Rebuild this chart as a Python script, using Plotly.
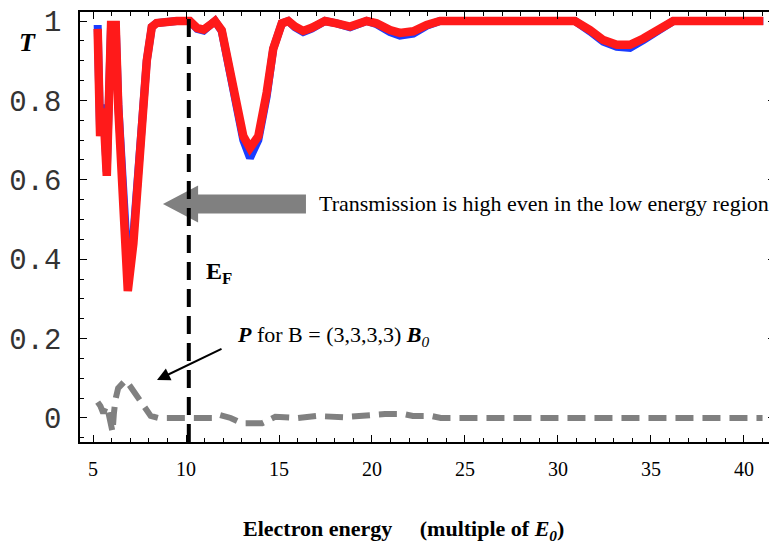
import plotly.graph_objects as go

# ---- data ----
energy_red = [5.25, 5.38, 5.55, 5.74, 5.97, 6.22, 6.36, 6.63, 6.87, 7.17, 7.53, 7.89, 8.16, 8.42,
              9.5, 10.2, 10.6, 10.95, 11.3, 11.56, 11.92, 12.27, 12.73, 13.08, 13.44, 13.89, 14.34,
              14.69, 15.15, 15.5, 15.86, 16.3, 16.76, 17.47, 18.1, 18.82, 19.71, 20.25, 20.97, 21.5,
              22.22, 22.94, 23.66, 26.0, 28.0, 30.91, 31.72, 32.44, 33.16, 33.87, 34.59, 35.48,
              36.2, 38.0, 41.04]
T_red = [0.98, 0.71, 0.78, 0.61, 0.99, 0.99, 0.78, 0.52, 0.32, 0.44, 0.69, 0.90, 0.985, 0.995,
         1.0, 1.0, 0.982, 0.978, 0.99, 1.0, 0.977, 0.90, 0.79, 0.71, 0.68, 0.71, 0.82,
         0.93, 0.994, 1.0, 0.986, 0.975, 0.983, 1.0, 0.994, 0.986, 1.0, 0.994, 0.977, 0.97,
         0.974, 0.99, 1.0, 1.0, 1.0, 1.0, 0.977, 0.952, 0.94, 0.94, 0.956, 0.98,
         1.0, 1.0, 1.0]
T_blue = [0.99, 0.72, 0.79, 0.62, 0.99, 0.99, 0.79, 0.54, 0.38, 0.46, 0.70, 0.90, 0.985, 0.995,
          1.0, 1.0, 0.98, 0.976, 0.99, 1.0, 0.975, 0.89, 0.78, 0.70, 0.655, 0.70, 0.81,
          0.93, 0.994, 1.0, 0.984, 0.972, 0.981, 1.0, 0.994, 0.984, 1.0, 0.992, 0.972, 0.963,
          0.968, 0.988, 1.0, 1.0, 1.0, 1.0, 0.974, 0.948, 0.935, 0.932, 0.952, 0.978,
          1.0, 1.0, 1.0]

energy_P = [5.25, 5.4, 5.55, 5.7, 5.82, 6.05, 6.12, 6.2, 6.35, 6.55, 6.75, 7.0, 7.3, 7.55, 7.85,
            8.1, 8.5, 11.4, 11.8, 12.4, 13.0, 14.1, 14.8, 16.0, 17.0, 18.5, 20.7, 21.7, 22.2,
            23.2, 23.7, 41.0]
P_vals = [0.04, 0.03, 0.012, 0.03, 0.015, -0.035, 0.01, 0.045, 0.075, 0.085, 0.095, 0.08, 0.058,
          0.04, 0.02, 0.005, 0.0, 0.0, 0.008, 0.0, -0.013, -0.013, 0.003, 0.0, 0.005, 0.002,
          0.01, 0.01, 0.005, 0.005, 0.0, 0.0]

E_F = 10.15
x_ticks = [5, 10, 15, 20, 25, 30, 35, 40]
y_ticks = [0, 0.2, 0.4, 0.6, 0.8, 1.0]
y_ticktext = ["0", "0.2", "0.4", "0.6", "0.8", "1"]

fig = go.Figure()
fig.add_trace(go.Scatter(x=energy_P, y=P_vals, mode="lines",
                         line=dict(color="#808080", width=6, dash="18px,9px")))
fig.add_trace(go.Scatter(x=energy_red, y=T_blue, mode="lines",
                         line=dict(color="#1a3cff", width=8)))
fig.add_trace(go.Scatter(x=energy_red, y=T_red, mode="lines",
                         line=dict(color="#ff1a1a", width=8.5)))

# block arrow (gray)
tip, hb, tail, yc, bh, hh = 8.76, 10.65, 16.45, 0.539, 0.024, 0.0466
path = (f"M {tip},{yc} L {hb},{yc+hh} L {hb},{yc+bh} L {tail},{yc+bh} "
        f"L {tail},{yc-bh} L {hb},{yc-bh} L {hb},{yc-hh} Z")
fig.add_shape(type="path", path=path, xref="x", yref="y",
              fillcolor="#808080", line=dict(width=0), layer="above")
# E_F dashed line
fig.add_shape(type="line", xref="x", yref="paper", x0=E_F, x1=E_F, y0=0, y1=1,
              line=dict(color="black", width=4, dash="18px,9px"), layer="above")

serif = "Liberation Serif"
fig.add_annotation(x=17.04, y=0.54, xref="x", yref="y", xanchor="left", yanchor="middle",
                   text="Transmission is high even in the low energy region",
                   showarrow=False, font=dict(family=serif, size=22, color="black"))
fig.add_annotation(x=10.97, y=0.365, xref="x", yref="y", xanchor="left", yanchor="middle",
                   text="<b>E<sub>F</sub></b>", showarrow=False,
                   font=dict(family=serif, size=24, color="black"))
fig.add_annotation(x=12.63, y=0.206, xref="x", yref="y", xanchor="left", yanchor="middle",
                   text="<b><i>P</i></b> for B = (3,3,3,3) <b><i>B</i></b><i><sub>0</sub></i>",
                   showarrow=False, font=dict(family=serif, size=22, color="black"))
fig.add_annotation(x=8.44, y=0.0957, ax=11.99, ay=0.176, xref="x", yref="y",
                   axref="x", ayref="y", text="", showarrow=True,
                   arrowhead=2, arrowsize=1.3, arrowwidth=2, arrowcolor="black")
fig.add_annotation(x=-0.075, y=0.93, xref="paper", yref="paper", text="<b><i>T</i></b>",
                   xanchor="center", yanchor="middle",
                   showarrow=False, font=dict(family=serif, size=26, color="black"))
fig.add_annotation(x=0.466, y=-0.205, xref="paper", yref="paper",
                   xanchor="center", yanchor="middle",
                   text="<b>Electron energy\u00a0\u00a0\u00a0\u00a0\u00a0(multiple of <i>E<sub>0</sub></i>)</b>",
                   showarrow=False, font=dict(family=serif, size=22, color="black"))

fig.update_layout(
    width=769, height=535,
    margin=dict(l=72, r=2, t=4, b=101, autoexpand=False),
    paper_bgcolor="white", plot_bgcolor="white",
    showlegend=False,
    xaxis=dict(range=[4.30, 41.67], tickvals=x_ticks, ticks="inside", ticklen=7,
               tickwidth=1.2, tickcolor="black", showline=True, linecolor="black",
               linewidth=1.5, mirror="allticks", showgrid=False, zeroline=False,
               automargin=False, ticklabeloverflow="allow",
               minor=dict(dtick=1, ticks="inside", ticklen=4, tickcolor="black", showgrid=False),
               tickfont=dict(family=serif, size=20, color="black"), ticklabelstandoff=8),
    yaxis=dict(range=[-0.0605, 1.0227], tickvals=y_ticks, ticktext=y_ticktext,
               ticks="inside", ticklen=7, tickwidth=1.2, tickcolor="black",
               showline=True, linecolor="black", linewidth=1.5, mirror="allticks",
               showgrid=False, zeroline=False, automargin=False, ticklabeloverflow="allow",
               minor=dict(dtick=0.05, ticks="inside", ticklen=4, tickcolor="black", showgrid=False),
               tickfont=dict(family="Liberation Mono", size=29, color="#333333"),
               ticklabelstandoff=11),
)

fig.write_html("out.html")
